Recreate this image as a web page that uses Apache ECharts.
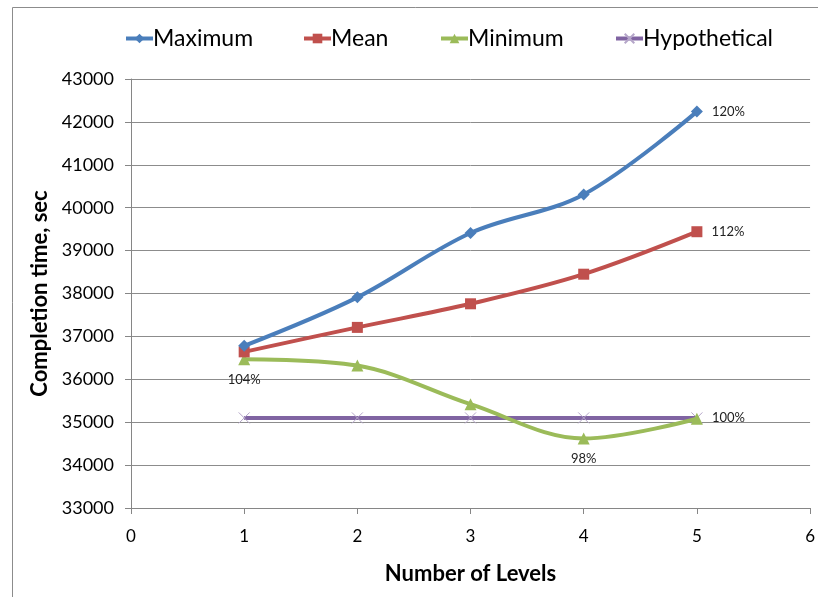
<!DOCTYPE html>
<html>
<head>
<meta charset="utf-8">
<script src="https://cdn.jsdelivr.net/npm/echarts@6/dist/echarts.min.js"></script>
<style>
  html, body { margin: 0; padding: 0; background: #fff; }
  #chart { width: 818px; height: 597px; }
</style>
</head>
<body>
<div id="chart"></div>
<script>
// Number of levels on the x axis
const levels = [1, 2, 3, 4, 5];

// Completion time (sec) per series
const maximum = [36780, 37910, 39410, 40310, 42240];
const mean = [36640, 37210, 37760, 38450, 39440];
const minimum = [36470, 36320, 35420, 34620, 35080];
const hypothetical = [35100, 35100, 35100, 35100, 35100];

// Ratio labels shown beside selected points
const maximumLabels = ['', '', '', '', '120%'];
const meanLabels = ['', '', '', '', '112%'];
const minimumLabels = ['104%', '', '', '98%', ''];
const hypotheticalLabels = ['', '', '', '', '100%'];

// Axis ranges
const xTicks = [0, 1, 2, 3, 4, 5, 6];
const yMin = 33000, yMax = 43000, yStep = 1000;

const FONT = 'Lato, "Open Sans", sans-serif';

function buildData(values, labels, position, offset) {
  return levels.map(function (lv, i) {
    const item = { value: [lv, values[i]] };
    if (labels[i]) {
      item.label = {
        show: true,
        position: position,
        offset: offset || [0, 0],
        formatter: labels[i],
        fontFamily: FONT,
        fontSize: 13,
        color: '#222'
      };
    }
    return item;
  });
}

const xIcon = 'path://M0,0L10,10M10,0L0,10';

const chart = echarts.init(document.getElementById('chart'), null, { renderer: 'canvas' });

function legendAt(name, left) {
  return {
    data: [name],
    left: left,
    top: 22,
    itemWidth: 27,
    itemHeight: 12,
    lineStyle: { width: 4 },
    textStyle: { fontFamily: FONT, fontSize: 23, color: '#000', padding: [0, 0, 0, -5] },
    selectedMode: false
  };
}

chart.setOption({
  backgroundColor: '#fff',
  animation: false,
  graphic: [
    {
      type: 'line',
      shape: { x1: 12.5, y1: 7.5, x2: 818, y2: 7.5 },
      style: { stroke: '#8c8c8c', lineWidth: 1 },
      silent: true,
      z: 100
    },
    {
      type: 'line',
      shape: { x1: 12.5, y1: 7.5, x2: 12.5, y2: 597 },
      style: { stroke: '#8c8c8c', lineWidth: 1 },
      silent: true,
      z: 100
    }
  ],
  legend: [
    legendAt('Maximum', 119),
    legendAt('Mean', 297),
    legendAt('Minimum', 434),
    legendAt('Hypothetical', 609)
  ],
  grid: { left: 131, right: 5, top: 79, bottom: 89, containLabel: false },
  xAxis: {
    type: 'value',
    min: xTicks[0],
    max: xTicks[xTicks.length - 1],
    interval: 1,
    name: 'Number of Levels',
    nameLocation: 'middle',
    nameGap: 55,
    nameTextStyle: { fontFamily: FONT, fontSize: 22, fontWeight: 'bold', color: '#000' },
    axisLine: { show: true, lineStyle: { color: '#868686', width: 1 } },
    axisTick: { show: true, inside: false, length: 6, lineStyle: { color: '#868686' } },
    axisLabel: { fontFamily: FONT, fontSize: 17, color: '#000', margin: 20 },
    splitLine: { show: false }
  },
  yAxis: {
    type: 'value',
    min: yMin,
    max: yMax,
    interval: yStep,
    name: 'Completion time, sec',
    nameLocation: 'middle',
    nameGap: 78,
    nameTextStyle: { fontFamily: FONT, fontSize: 22, fontWeight: 'bold', color: '#000' },
    axisLine: { show: true, lineStyle: { color: '#868686', width: 1 } },
    axisTick: { show: true, inside: false, length: 6, lineStyle: { color: '#868686' } },
    axisLabel: { fontFamily: FONT, fontSize: 18, color: '#000', margin: 17, formatter: function (v) { return String(v); } },
    splitLine: { show: true, lineStyle: { color: '#8c8c8c', width: 1 } }
  },
  series: [
    {
      name: 'Hypothetical',
      type: 'line',
      data: buildData(hypothetical, hypotheticalLabels, 'right', [4, 0]),
      symbol: xIcon,
      symbolSize: 11,
      itemStyle: { color: 'rgba(0,0,0,0)', borderColor: '#b5a6c9', borderWidth: 1 },
      lineStyle: { color: '#8064A2', width: 4 },
      z: 2
    },
    {
      name: 'Minimum',
      type: 'line',
      smooth: 0.35,
      data: buildData(minimum, minimumLabels, 'bottom', [0, 3]),
      symbol: 'triangle',
      symbolSize: 12,
      itemStyle: { color: '#9BBB59' },
      lineStyle: { color: '#9BBB59', width: 4 },
      z: 3
    },
    {
      name: 'Mean',
      type: 'line',
      smooth: 0.35,
      data: buildData(mean, meanLabels, 'right', [4, 0]),
      symbol: 'rect',
      symbolSize: 11,
      itemStyle: { color: '#C0504D' },
      lineStyle: { color: '#C0504D', width: 4 },
      z: 4
    },
    {
      name: 'Maximum',
      type: 'line',
      smooth: 0.35,
      data: buildData(maximum, maximumLabels, 'right', [4, 0]),
      symbol: 'diamond',
      symbolSize: 12,
      itemStyle: { color: '#4A7EBB' },
      lineStyle: { color: '#4A7EBB', width: 4 },
      z: 5
    }
  ]
});
</script>
</body>
</html>
